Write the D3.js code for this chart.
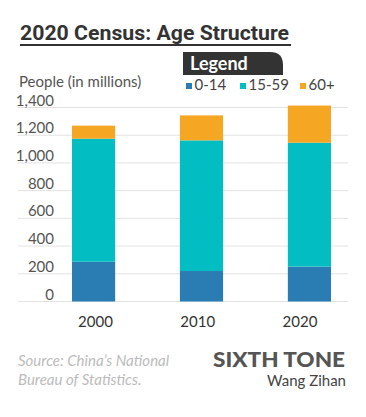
<!DOCTYPE html>
<html>
<head>
<meta charset="utf-8">
<script src="https://cdn.jsdelivr.net/npm/d3@7"></script>
<style>
  body { margin: 0; background: #fff; }
  svg { display: block; font-family: Lato, "Noto Sans", sans-serif; }
</style>
</head>
<body>
<svg id="chart" width="366" height="417"></svg>
<script>
// ---------- данные ----------
const years = ['2000', '2010', '2020'];
const groups = ['0-14', '15-59', '60+'];
const young = [287, 220, 252];
const working = [888, 943, 894];
const elderly = [94, 180, 268];
const yTicks = [0, 200, 400, 600, 800, 1000, 1200, 1400];

const colors = { '0-14': '#2a7db3', '15-59': '#02bdc2', '60+': '#f5a623' };

const rows = years.map((y, i) => ({ year: y, '0-14': young[i], '15-59': working[i], '60+': elderly[i] }));

const svg = d3.select('#chart');

const x = d3.scaleBand().domain(years).range([72, 331]).paddingInner(0.6).paddingOuter(0);
const y = d3.scaleLinear().domain([0, 1400]).range([301.5, 107.5]);
const xLabel = d3.scalePoint().domain(years).range([95.5, 300]);

// ---------- заголовок ----------
svg.append('text')
    .attr('x', 20).attr('y', 40)
    .attr('font-family', 'Roboto, sans-serif')
    .attr('font-weight', 700)
    .attr('font-size', 21)
    .attr('fill', '#333')
    .attr('textLength', 269)
    .attr('lengthAdjust', 'spacingAndGlyphs')
    .text('2020 Census: Age Structure');

svg.append('rect')
    .attr('x', 20).attr('y', 44).attr('width', 271).attr('height', 2)
    .attr('fill', '#333');

// ---------- легенда ----------
const lg = svg.append('g');
lg.append('path')
    .attr('d', 'M183,75 L183,52 L270,52 Q283,52 283,65 L283,75 Z')
    .attr('fill', '#333');
lg.append('text')
    .attr('x', 190).attr('y', 70)
    .attr('font-weight', 700).attr('font-size', 18)
    .attr('fill', '#fff')
    .text('Legend');

const legendX = [186, 240, 300];
groups.forEach((g, i) => {
    lg.append('rect')
        .attr('x', legendX[i]).attr('y', 83).attr('width', 6).attr('height', 6)
        .attr('fill', colors[g]);
    lg.append('text')
        .attr('x', legendX[i] + 8.5).attr('y', 90)
        .attr('font-size', 15).attr('fill', '#444')
        .text(g);
});

svg.append('text')
    .attr('x', 19).attr('y', 87)
    .attr('font-size', 15).attr('fill', '#555')
    .text('People (in millions)');

// ---------- сетка и ось Y ----------
const grid = svg.append('g');
grid.selectAll('line')
    .data(yTicks)
    .join('line')
    .attr('x1', 18).attr('x2', 348)
    .attr('y1', d => y(d)).attr('y2', d => y(d))
    .attr('stroke', '#e2e2e2').attr('stroke-width', 1);

grid.selectAll('text')
    .data(yTicks)
    .join('text')
    .attr('x', 54).attr('y', d => y(d) - 2)
    .attr('text-anchor', 'end')
    .attr('font-size', 15).attr('fill', '#555')
    .text(d => d3.format(',')(d));

// ---------- столбцы ----------
const stacked = d3.stack().keys(groups)(rows);

svg.append('g')
    .selectAll('g')
    .data(stacked)
    .join('g')
    .attr('fill', d => colors[d.key])
    .selectAll('rect')
    .data(d => d)
    .join('rect')
    .attr('x', d => x(d.data.year))
    .attr('width', x.bandwidth())
    .attr('y', d => y(d[1]))
    .attr('height', d => y(d[0]) - y(d[1]));

// ---------- подписи оси X ----------
svg.append('g')
    .selectAll('text')
    .data(years)
    .join('text')
    .attr('x', d => xLabel(d)).attr('y', 327)
    .attr('text-anchor', 'middle')
    .attr('font-size', 15).attr('fill', '#333')
    .text(d => d);

// ---------- подвал ----------
svg.append('text')
    .attr('x', 18).attr('y', 366)
    .attr('font-size', 15).attr('font-style', 'italic')
    .attr('fill', '#bbb')
    .text('Source: China\u2019s National');
svg.append('text')
    .attr('x', 18).attr('y', 385)
    .attr('font-size', 15).attr('font-style', 'italic')
    .attr('fill', '#bbb')
    .text('Bureau of Statistics.');

svg.append('text')
    .attr('x', 213).attr('y', 366.5)
    .attr('font-weight', 900).attr('font-size', 20)
    .attr('fill', '#555')
    .attr('textLength', 132)
    .attr('lengthAdjust', 'spacingAndGlyphs')
    .text('SIXTH TONE');
svg.append('text')
    .attr('x', 346).attr('y', 386)
    .attr('text-anchor', 'end')
    .attr('font-size', 15).attr('fill', '#444')
    .text('Wang Zihan');
</script>
</body>
</html>
